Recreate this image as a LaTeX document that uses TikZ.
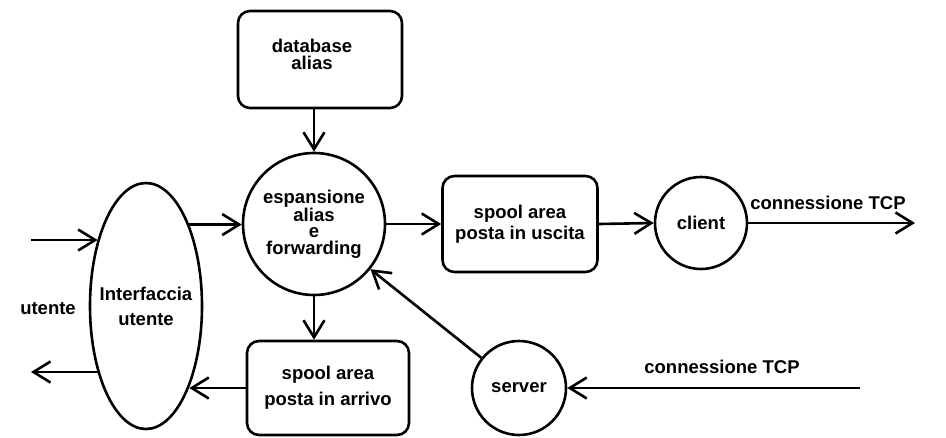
\documentclass[tikz,border=0pt]{standalone}
\usepackage{fontspec}
\setmainfont{Liberation Sans}
\usetikzlibrary{arrows.meta,shapes.geometric}
\begin{document}
\begin{tikzpicture}[x=1pt,y=-1pt,line width=2.6pt,
  font=\fontsize{18.5}{16.5}\selectfont\bfseries,
  arr/.style={-{Straight Barb[length=17pt,width=21pt,line width=2.6pt]}},
  boxnode/.style={draw,rounded corners=12pt,align=center,inner sep=0pt},
  circnode/.style={draw,circle,align=center,inner sep=0pt},
  lbl/.style={inner sep=0pt}]
\useasboundingbox (0,0) rectangle (946,437);
% nodes
\node[boxnode,minimum width=164pt,minimum height=97pt,
  label={[align=center,inner sep=0pt,xshift=-8pt,yshift=5pt]center:database\\alias}] (db) at (320,59.5) {};
\node[circnode,minimum size=142pt] (esp) at (314,224) {espansione\\alias\\e\\forwarding};
\node[draw,ellipse,minimum width=112pt,minimum height=246pt,inner sep=0pt,
  label={[align=center,inner sep=0pt,font=\fontsize{18.5}{25}\selectfont\bfseries]center:Interfaccia\\utente}] (ell) at (146,306) {};
\node[boxnode,minimum width=155pt,minimum height=96pt,
  font=\fontsize{18.5}{21}\selectfont\bfseries] (usc) at (520,224) {spool area\\posta in uscita};
\node[circnode,minimum size=92pt] (cli) at (701,223) {client};
\node[boxnode,minimum width=162pt,minimum height=94pt,
  font=\fontsize{18.5}{26}\selectfont\bfseries] (arv) at (328,388) {spool area\\posta in arrivo};
\node[circnode,minimum size=94pt] (srv) at (519,388) {server};
% labels
\node[lbl] (lutente) at (48,309) {utente};
\node[lbl] (ltcp1) at (828,203) {connessione TCP};
\node[lbl] (ltcp2) at (722,367) {connessione TCP};
% free ends
\coordinate (inL) at (31,240);
\coordinate (outL) at (31,372);
\coordinate (tcpout) at (915,223);
\coordinate (tcpin) at (860,388);
% connectors
\draw[arr] (esp.north |- db.south) -- (esp.north);
\draw[arr] (inL) -- (inL -| ell.126);
\draw[arr] (outL -| ell.234) -- (outL);
\draw[arr] (ell.62) -- (ell.62 -| esp.west);
\draw[arr] (esp.south) -- (esp.south |- arv.north);
\draw[arr] (arv.west) -- (arv.west -| ell.298);
\draw[arr] (esp.east) -- (usc.west);
\draw[arr] (usc.east) -- (cli.west);
\draw[arr] (cli.east) -- (tcpout);
\draw[arr] (tcpin) -- (srv.east);
\draw[arr] (srv) -- (esp);
\end{tikzpicture}
\end{document}
